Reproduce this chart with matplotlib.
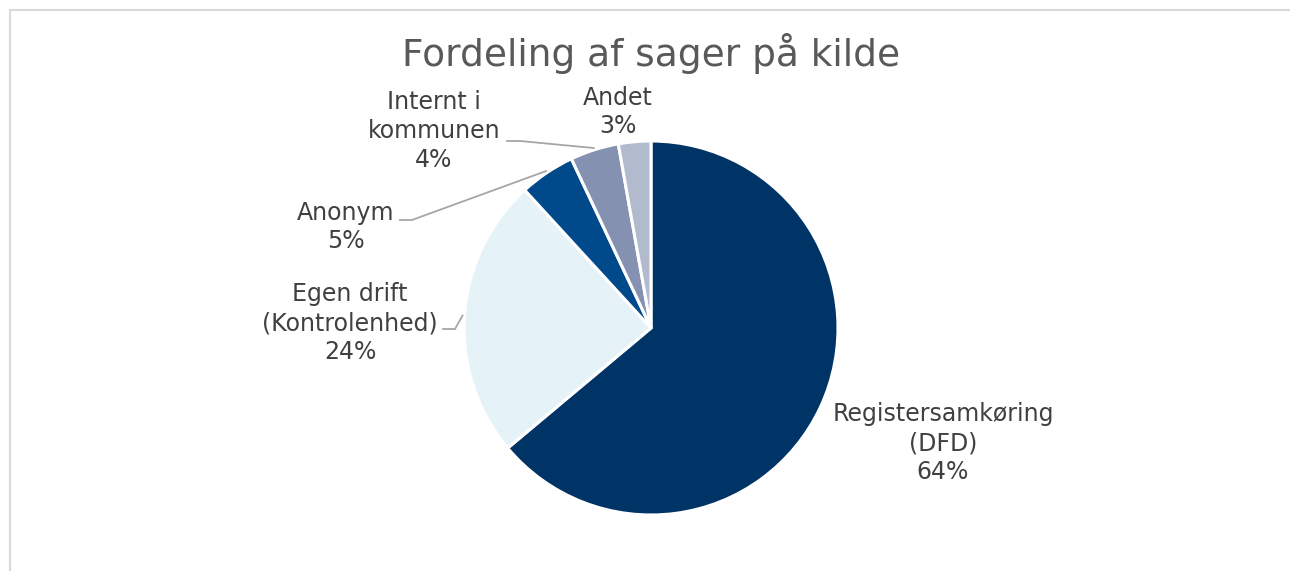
import matplotlib.pyplot as plt
from matplotlib.lines import Line2D
import numpy as np

# Data
categories = ['Registersamkøring\n(DFD)', 'Egen drift\n(Kontrolenhed)', 'Anonym',
              'Internt i\nkommunen', 'Andet']
values = [63.9, 24.3, 4.8, 4.2, 2.8]
colors = ['#003466', '#e5f3f8', '#004a8c', '#8591b1', '#b2bbce']

W, H = 1290, 571
fig = plt.figure(figsize=(W / 100, H / 100), dpi=100)
ax = fig.add_axes([0, 0, 1, 1])

cx, cy, r = 651, H - 328, 187
wedges, _ = ax.pie(values, colors=colors, startangle=90, counterclock=False,
                   center=(cx, cy), radius=r, frame=True,
                   wedgeprops=dict(edgecolor='white', linewidth=2.2))
ax.set_xlim(0, W)
ax.set_ylim(0, H)
ax.set_aspect('equal')
ax.axis('off')

# label layout (pixel positions, image coords) and leader elbows
label_pos = [(943, 443), (350, 323), (346, 227), (434, 131), (618, 112)]
leaders = {1: (443, 455, 329), 2: (400, 412, 220), 3: (507, 520, 141)}

total = sum(values)
for i, (w, lab) in enumerate(zip(wedges, categories)):
    pct = round(values[i] / total * 100)
    x, y = label_pos[i]
    ax.text(x, H - y, f'{lab}\n{pct}%', ha='center', va='center',
            fontsize=17, color='#404040', linespacing=1.25)
    if i in leaders:
        x0, x1, ly = leaders[i]
        ang = np.deg2rad((w.theta1 + w.theta2) / 2)
        ex, ey = cx + 1.01 * r * np.cos(ang), cy + 1.01 * r * np.sin(ang)
        ax.plot([x0, x1, ex], [H - ly, H - ly, ey], color='#a6a6a6', lw=1.3)

ax.text(651, H - 53, 'Fordeling af sager på kilde', ha='center', va='center',
        fontsize=27, color='#595959')

# chart frame
fig.add_artist(Line2D([9.5 / W, 9.5 / W, 1.0], [0, 1 - 9.5 / H, 1 - 9.5 / H],
                      transform=fig.transFigure, color='#d9d9d9', lw=1.5))

fig.savefig('out.png', dpi=100)
